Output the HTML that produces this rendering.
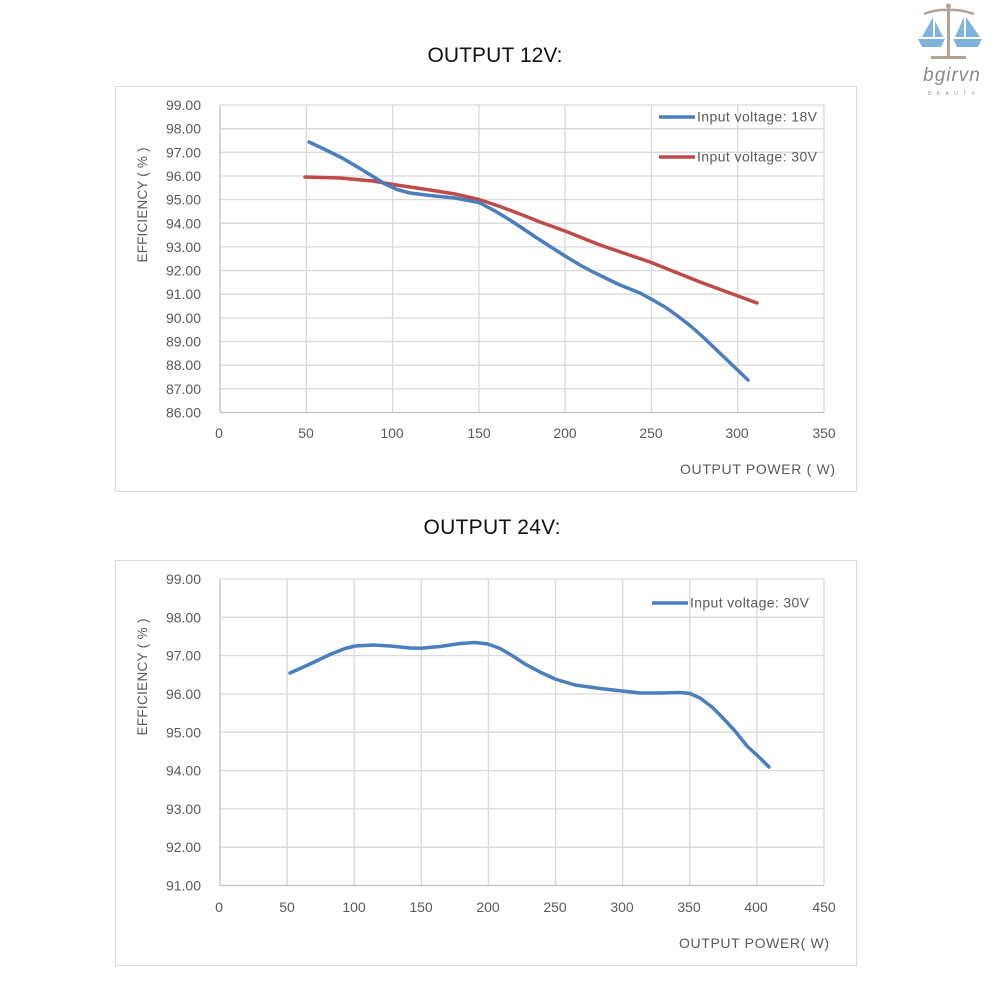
<!DOCTYPE html>
<html>
<head>
<meta charset="utf-8">
<style>
html,body{margin:0;padding:0;background:#fff;}
svg{display:block;}
text{font-family:"Liberation Sans",sans-serif;}
</style>
</head>
<body>
<svg width="1001" height="1001" viewBox="0 0 1001 1001" xmlns="http://www.w3.org/2000/svg">
<rect width="1001" height="1001" fill="#fff"/>

<!-- Logo -->
<g>
  <path d="M924,14 Q936,9 948,10 Q960,9 974,14" fill="none" stroke="#b3a394" stroke-width="2.5"/>
  <rect x="947" y="5" width="3" height="53" fill="#b3a394"/>
  <circle cx="948.5" cy="6" r="2.5" fill="#b3a394"/>
  <rect x="931" y="56" width="35" height="3" fill="#b3a394"/>
  <path d="M933,17 L933,37 L922,37 Z" fill="#7fb3dd"/>
  <path d="M935,21 L935,37 L943,37 Z" fill="#7fb3dd"/>
  <path d="M918,39 L945,39 L941,47 L922,47 Z" fill="#7fb3dd"/>
  <path d="M964,17 L964,37 L955,37 Z" fill="#7fb3dd"/>
  <path d="M966,17 L966,37 L980,37 Z" fill="#7fb3dd"/>
  <path d="M953,39 L982,39 L978,47 L957,47 Z" fill="#7fb3dd"/>
  <text x="952" y="81" text-anchor="middle" font-family="Liberation Serif,serif" font-style="italic" font-size="19" fill="#8a8a8a" letter-spacing="1">bgirvn</text>
  <text x="954" y="95" text-anchor="middle" font-size="5.5" fill="#999" letter-spacing="5">BEAUTY</text>
</g>

<!-- ===== Chart 1 ===== -->
<text x="495" y="62" text-anchor="middle" font-size="21" fill="#111" textLength="135">OUTPUT 12V:</text>
<rect x="115.5" y="86.5" width="741" height="405" fill="#fff" stroke="#d9d9d9" stroke-width="1"/>

<g stroke="#d9d9d9" stroke-width="1.3">
  <line x1="220" y1="105" x2="824" y2="105"/>
  <line x1="220" y1="128.7" x2="824" y2="128.7"/>
  <line x1="220" y1="152.3" x2="824" y2="152.3"/>
  <line x1="220" y1="176" x2="824" y2="176"/>
  <line x1="220" y1="199.6" x2="824" y2="199.6"/>
  <line x1="220" y1="223.3" x2="824" y2="223.3"/>
  <line x1="220" y1="246.9" x2="824" y2="246.9"/>
  <line x1="220" y1="270.6" x2="824" y2="270.6"/>
  <line x1="220" y1="294.2" x2="824" y2="294.2"/>
  <line x1="220" y1="317.9" x2="824" y2="317.9"/>
  <line x1="220" y1="341.5" x2="824" y2="341.5"/>
  <line x1="220" y1="365.2" x2="824" y2="365.2"/>
  <line x1="220" y1="388.8" x2="824" y2="388.8"/>
  <line x1="306.3" y1="105" x2="306.3" y2="412.5"/>
  <line x1="392.6" y1="105" x2="392.6" y2="412.5"/>
  <line x1="478.9" y1="105" x2="478.9" y2="412.5"/>
  <line x1="565.1" y1="105" x2="565.1" y2="412.5"/>
  <line x1="651.4" y1="105" x2="651.4" y2="412.5"/>
  <line x1="737.7" y1="105" x2="737.7" y2="412.5"/>
  <line x1="824" y1="105" x2="824" y2="412.5"/>
</g>
<g stroke="#bfbfbf" stroke-width="1.3">
  <line x1="220" y1="105" x2="220" y2="412.5"/>
  <line x1="220" y1="412.5" x2="824" y2="412.5"/>
</g>

<g font-size="14" fill="#595959" text-anchor="end">
  <text x="201" y="110">99.00</text>
  <text x="201" y="133.7">98.00</text>
  <text x="201" y="157.3">97.00</text>
  <text x="201" y="181">96.00</text>
  <text x="201" y="204.6">95.00</text>
  <text x="201" y="228.3">94.00</text>
  <text x="201" y="251.9">93.00</text>
  <text x="201" y="275.6">92.00</text>
  <text x="201" y="299.2">91.00</text>
  <text x="201" y="322.9">90.00</text>
  <text x="201" y="346.5">89.00</text>
  <text x="201" y="370.2">88.00</text>
  <text x="201" y="393.8">87.00</text>
  <text x="201" y="417.5">86.00</text>
</g>
<g font-size="14" fill="#595959" text-anchor="middle">
  <text x="219" y="438">0</text>
  <text x="306" y="438">50</text>
  <text x="392" y="438">100</text>
  <text x="479" y="438">150</text>
  <text x="565" y="438">200</text>
  <text x="651" y="438">250</text>
  <text x="737" y="438">300</text>
  <text x="824" y="438">350</text>
</g>
<text x="680" y="474" font-size="14" fill="#595959" textLength="155">OUTPUT POWER ( W)</text>
<text transform="translate(147,205) rotate(-90)" text-anchor="middle" font-size="13.5" fill="#595959" textLength="115">EFFICIENCY ( % )</text>

<polyline fill="none" stroke="#be4b48" stroke-width="3.5" stroke-linejoin="round" stroke-linecap="round"
 points="305,177 340,178 373,181 393,184.5 410,187 430,190 455,194 479,199.5 500,206.5 520,214 540,222 565,231 600,245 650,262 700,282 757,303"/>
<polyline fill="none" stroke="#4a7ebd" stroke-width="3.5" stroke-linejoin="round" stroke-linecap="round"
 points="309,142 325,149.5 343,158.5 360,168.5 373,176.5 385,184 397,189.5 410,193 430,195.5 455,198 479,202.5 495,211 510,220 525,230 540,240 565,256 580,265 593,272 620,285 640,293 651,299 665,307 677,315.5 690,325.5 703,337 725,358 748,380"/>

<line x1="659" y1="117" x2="695" y2="117" stroke="#4a7ebd" stroke-width="3.5"/>
<text x="697" y="121.5" font-size="14" fill="#595959" textLength="120">Input voltage: 18V</text>
<line x1="659" y1="157" x2="695" y2="157" stroke="#be4b48" stroke-width="3.5"/>
<text x="697" y="161.5" font-size="14" fill="#595959" textLength="120">Input voltage: 30V</text>

<!-- ===== Chart 2 ===== -->
<text x="492" y="534" text-anchor="middle" font-size="21" fill="#111" textLength="137">OUTPUT 24V:</text>
<rect x="115.5" y="560.5" width="741" height="405" fill="#fff" stroke="#d9d9d9" stroke-width="1"/>

<g stroke="#d9d9d9" stroke-width="1.3">
  <line x1="220" y1="579" x2="824" y2="579"/>
  <line x1="220" y1="617.3" x2="824" y2="617.3"/>
  <line x1="220" y1="655.6" x2="824" y2="655.6"/>
  <line x1="220" y1="693.9" x2="824" y2="693.9"/>
  <line x1="220" y1="732.3" x2="824" y2="732.3"/>
  <line x1="220" y1="770.6" x2="824" y2="770.6"/>
  <line x1="220" y1="808.9" x2="824" y2="808.9"/>
  <line x1="220" y1="847.2" x2="824" y2="847.2"/>
  <line x1="287.1" y1="579" x2="287.1" y2="885.5"/>
  <line x1="354.2" y1="579" x2="354.2" y2="885.5"/>
  <line x1="421.3" y1="579" x2="421.3" y2="885.5"/>
  <line x1="488.4" y1="579" x2="488.4" y2="885.5"/>
  <line x1="555.6" y1="579" x2="555.6" y2="885.5"/>
  <line x1="622.7" y1="579" x2="622.7" y2="885.5"/>
  <line x1="689.8" y1="579" x2="689.8" y2="885.5"/>
  <line x1="756.9" y1="579" x2="756.9" y2="885.5"/>
  <line x1="824" y1="579" x2="824" y2="885.5"/>
</g>
<g stroke="#bfbfbf" stroke-width="1.3">
  <line x1="220" y1="579" x2="220" y2="885.5"/>
  <line x1="220" y1="885.5" x2="824" y2="885.5"/>
</g>

<g font-size="14" fill="#595959" text-anchor="end">
  <text x="201" y="584">99.00</text>
  <text x="201" y="622.3">98.00</text>
  <text x="201" y="660.6">97.00</text>
  <text x="201" y="698.9">96.00</text>
  <text x="201" y="737.3">95.00</text>
  <text x="201" y="775.6">94.00</text>
  <text x="201" y="813.9">93.00</text>
  <text x="201" y="852.2">92.00</text>
  <text x="201" y="890.5">91.00</text>
</g>
<g font-size="14" fill="#595959" text-anchor="middle">
  <text x="219" y="912">0</text>
  <text x="287" y="912">50</text>
  <text x="354" y="912">100</text>
  <text x="421" y="912">150</text>
  <text x="488" y="912">200</text>
  <text x="555" y="912">250</text>
  <text x="622" y="912">300</text>
  <text x="689" y="912">350</text>
  <text x="756" y="912">400</text>
  <text x="824" y="912">450</text>
</g>
<text x="679" y="948" font-size="14" fill="#595959" textLength="150">OUTPUT POWER( W)</text>
<text transform="translate(147,677) rotate(-90)" text-anchor="middle" font-size="13.5" fill="#595959" textLength="117">EFFICIENCY ( % )</text>

<polyline fill="none" stroke="#4a7ebd" stroke-width="3.5" stroke-linejoin="round" stroke-linecap="round"
 points="290,673 310,664 330,654.5 345,648.5 355,646 373,645 390,646 410,648 421,648.3 440,646.5 460,643.5 475,642.5 488,644 500,648.5 512,655.5 525,664 540,672 555,679 575,685 600,688.5 622,691 640,693 660,693 680,692.5 690,693.5 700,698 712,707 722,717 735,731 747,746 760,758 769,767"/>

<line x1="652" y1="603" x2="688" y2="603" stroke="#4a7ebd" stroke-width="3.5"/>
<text x="690" y="607.5" font-size="14" fill="#595959" textLength="119">Input voltage: 30V</text>
</svg>
</body>
</html>
